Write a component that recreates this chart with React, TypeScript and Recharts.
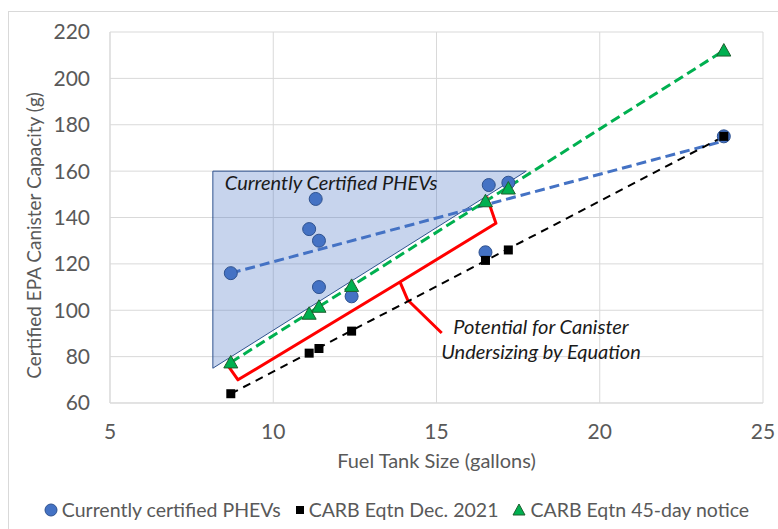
import React from 'react'
import {
  ComposedChart,
  Scatter,
  XAxis,
  YAxis,
  CartesianGrid,
  ReferenceArea,
  ReferenceDot,
  Legend,
} from 'recharts'

type Pt = { x: number; y: number }

// values
const phevPoints: Pt[] = [
  { x: 8.7, y: 116 },
  { x: 11.1, y: 135 },
  { x: 11.3, y: 148 },
  { x: 11.4, y: 130 },
  { x: 11.4, y: 110 },
  { x: 12.4, y: 106 },
  { x: 16.5, y: 125 },
  { x: 16.6, y: 154 },
  { x: 17.2, y: 155 },
  { x: 23.8, y: 175 },
]
const carbDec2021: Pt[] = [
  { x: 8.7, y: 64 },
  { x: 11.1, y: 81.5 },
  { x: 11.4, y: 83.5 },
  { x: 12.4, y: 91 },
  { x: 16.5, y: 121.5 },
  { x: 17.2, y: 126 },
  { x: 23.8, y: 175 },
]
const carb45Day: Pt[] = [
  { x: 8.7, y: 77.5 },
  { x: 11.1, y: 98.5 },
  { x: 11.4, y: 101.5 },
  { x: 12.4, y: 110.5 },
  { x: 16.5, y: 147 },
  { x: 17.2, y: 152.5 },
  { x: 23.8, y: 212 },
]

// dashed trend lines (end points)
const phevTrend: Pt[] = [{ x: 8.7, y: 116 }, { x: 23.8, y: 173 }]
const decTrend: Pt[] = [{ x: 8.7, y: 64 }, { x: 23.8, y: 175 }]
const notice45Trend: Pt[] = [{ x: 8.7, y: 77.5 }, { x: 23.8, y: 212 }]

// red bracket + its pointer
const bracket: Pt[] = [
  { x: 8.57, y: 77 },
  { x: 8.92, y: 70 },
  { x: 13.88, y: 112.2 },
  { x: 16.82, y: 137.5 },
  { x: 16.54, y: 149 },
]
const bracketPointer: Pt[] = [
  { x: 13.88, y: 112.2 },
  { x: 14.12, y: 104.4 },
  { x: 15.16, y: 90.2 },
]

// shaded region of currently certified PHEVs
const region = { x1: 8.15, x2: 17.75, y1: 75, y2: 160 }

const xTicks = [5, 10, 15, 20, 25]
const yTicks = [60, 80, 100, 120, 140, 160, 180, 200, 220]
const legendOrder = ['Currently certified PHEVs', 'CARB Eqtn Dec. 2021', 'CARB Eqtn 45-day notice']

const FONT = 'Lato, "Open Sans", sans-serif'
const GRAY = '#595959'
const GRID = '#D9D9D9'

const none = () => <g />

const Dot = (p: any) => (
  <circle cx={p.cx} cy={p.cy} r={6.5} fill="#4472C4" stroke="#2F528F" strokeWidth={1} />
)
const Square = (p: any) => (
  <rect x={p.cx - 4.5} y={p.cy - 4.5} width={9} height={9} fill="#000" />
)
const Tri = (p: any) => (
  <polygon
    points={`${p.cx},${p.cy - 7} ${p.cx - 7},${p.cy + 5.5} ${p.cx + 7},${p.cy + 5.5}`}
    fill="#00B050"
    stroke="#1E5E2E"
    strokeWidth={1}
  />
)

const RegionShape = (p: any) => {
  const { x, y, width, height } = p
  return (
    <polygon
      points={`${x},${y} ${x + width},${y} ${x},${y + height}`}
      fill="#4472C4"
      fillOpacity={0.3}
      stroke="#2F528F"
      strokeWidth={1}
    />
  )
}

const legendIcon = (type: string) => {
  if (type === 'circle')
    return (
      <svg width={14} height={14}>
        <circle cx={7} cy={7} r={6} fill="#4472C4" stroke="#2F528F" />
      </svg>
    )
  if (type === 'square')
    return (
      <svg width={10} height={10}>
        <rect x={1} y={1} width={8} height={8} fill="#000" />
      </svg>
    )
  return (
    <svg width={14} height={14}>
      <polygon points="7,1 1,12 13,12" fill="#00B050" stroke="#1E5E2E" />
    </svg>
  )
}

const renderLegend = (props: any) => {
  const items = (props.payload || [])
    .filter((e: any) => e.type !== 'none')
    .sort((a: any, b: any) => legendOrder.indexOf(a.value) - legendOrder.indexOf(b.value))
  return (
    <div
      style={{
        display: 'flex',
        justifyContent: 'center',
        alignItems: 'center',
        gap: 14,
        fontFamily: FONT,
        fontSize: 19.5,
        lineHeight: '24px',
        color: GRAY,
        whiteSpace: 'nowrap',
      }}
    >
      {items.map((e: any) => (
        <span
          key={e.value}
          style={{ display: 'flex', alignItems: 'center', gap: 4, flexShrink: 0 }}
        >
          {legendIcon(e.type)}
          <span>{e.value}</span>
        </span>
      ))}
    </div>
  )
}

const YTitle = (p: any) => {
  const vb = p.viewBox
  const cy = vb.y + vb.height / 2 + 18
  return (
    <text
      x={33}
      y={cy}
      transform={`rotate(-90, 33, ${cy})`}
      textAnchor="middle"
      dominantBaseline="central"
      fill={GRAY}
      fontSize={19}
      fontFamily={FONT}
    >
      Certified EPA Canister Capacity (g)
    </text>
  )
}

const RegionLabel = (p: any) => {
  const vb = p.viewBox
  return (
    <text
      x={vb.x + 12}
      y={vb.y + 19}
      fill="#1a1a1a"
      fontSize={20}
      fontStyle="italic"
      fontFamily={FONT}
    >
      Currently Certified PHEVs
    </text>
  )
}

const NoteLabel = (p: any) => {
  const vb = p.viewBox
  const cx = vb.x + (vb.width || 0) / 2
  const cy = vb.y + (vb.height || 0) / 2
  return (
    <text
      x={cx}
      y={cy}
      textAnchor="middle"
      fill="#1a1a1a"
      fontSize={20}
      fontStyle="italic"
      fontFamily={FONT}
    >
      <tspan x={cx} dy={-6}>Potential for Canister</tspan>
      <tspan x={cx} dy={25}>Undersizing by Equation</tspan>
    </text>
  )
}

export default function App() {
  return (
    <div
      style={{
        position: 'absolute',
        left: 0,
        top: 0,
        width: 778,
        height: 529,
        background: '#fff',
        overflow: 'hidden',
      }}
    >
      <div
        style={{
          position: 'absolute',
          left: 8,
          top: 11,
          width: 790,
          height: 540,
          border: `1px solid ${GRID}`,
        }}
      />
      <ComposedChart
        width={778}
        height={529}
        margin={{ top: 32, right: 15, bottom: 7, left: 30 }}
        style={{ fontFamily: FONT }}
      >
        <CartesianGrid stroke={GRID} strokeWidth={1} />
        <XAxis
          type="number"
          dataKey="x"
          domain={[5, 25]}
          ticks={xTicks}
          allowDataOverflow
          tickSize={0}
          tickMargin={21}
          height={95}
          axisLine={{ stroke: GRID }}
          tick={{ fill: GRAY, fontSize: 21, fontFamily: FONT }}
          label={{
            value: 'Fuel Tank Size (gallons)',
            position: 'insideBottom',
            offset: 30,
            style: { fill: GRAY, fontSize: 20, fontFamily: FONT },
          }}
        />
        <YAxis
          type="number"
          dataKey="y"
          domain={[60, 220]}
          ticks={yTicks}
          allowDataOverflow
          width={80}
          tickSize={0}
          tickMargin={20}
          axisLine={{ stroke: GRID }}
          tick={{ fill: GRAY, fontSize: 21, fontFamily: FONT }}
          label={<YTitle />}
        />
        <ReferenceArea
          x1={region.x1}
          x2={region.x2}
          y1={region.y1}
          y2={region.y2}
          shape={<RegionShape />}
          label={<RegionLabel />}
        />
        <Scatter
          name="bracket"
          data={bracket}
          legendType="none"
          line={{ stroke: '#FF0000', strokeWidth: 3, strokeLinejoin: 'round' }}
          shape={none}
          isAnimationActive={false}
        />
        <Scatter
          name="pointer"
          data={bracketPointer}
          legendType="none"
          line={{ stroke: '#FF0000', strokeWidth: 3, strokeLinejoin: 'round' }}
          shape={none}
          isAnimationActive={false}
        />
        <Scatter
          name="phevTrend"
          data={phevTrend}
          legendType="none"
          line={{ stroke: '#4472C4', strokeWidth: 3, strokeDasharray: '10 5' }}
          shape={none}
          isAnimationActive={false}
        />
        <Scatter
          name="decTrend"
          data={decTrend}
          legendType="none"
          line={{ stroke: '#000', strokeWidth: 2, strokeDasharray: '8 6' }}
          shape={none}
          isAnimationActive={false}
        />
        <Scatter
          name="noticeTrend"
          data={notice45Trend}
          legendType="none"
          line={{ stroke: '#00B050', strokeWidth: 3, strokeDasharray: '10 5' }}
          shape={none}
          isAnimationActive={false}
        />
        <Scatter
          name="Currently certified PHEVs"
          data={phevPoints}
          fill="#4472C4"
          legendType="circle"
          shape={Dot}
          isAnimationActive={false}
        />
        <Scatter
          name="CARB Eqtn Dec. 2021"
          data={carbDec2021}
          fill="#000"
          legendType="square"
          shape={Square}
          isAnimationActive={false}
        />
        <Scatter
          name="CARB Eqtn 45-day notice"
          data={carb45Day}
          fill="#00B050"
          legendType="triangle"
          shape={Tri}
          isAnimationActive={false}
        />
        <ReferenceDot x={18.2} y={87} r={0} label={<NoteLabel />} />
        <Legend verticalAlign="bottom" content={renderLegend} />
      </ComposedChart>
    </div>
  )
}
